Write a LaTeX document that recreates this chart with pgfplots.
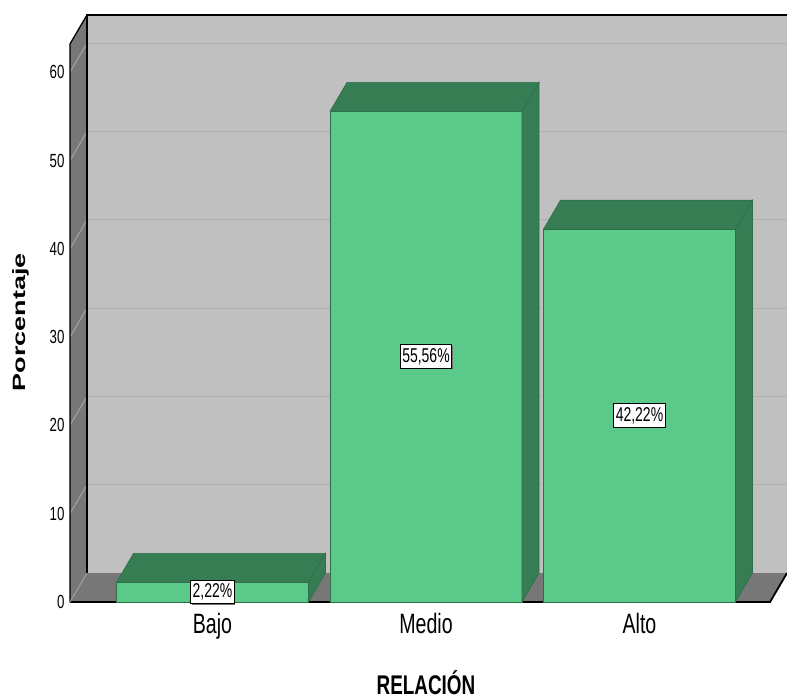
\documentclass[border=0pt]{standalone}
\usepackage{fontspec}
\newfontfamily\nar[FakeStretch=0.7]{Liberation Sans}
\usepackage{pgfplots}
\usepackage{pgfplotstable}
\pgfplotsset{compat=1.18}
\usetikzlibrary{shadows}
\definecolor{wall}{HTML}{C0C0C0}
\definecolor{gridc}{HTML}{B0B0B0}
\definecolor{side}{HTML}{777777}
\definecolor{sgrid}{HTML}{A4A4A4}
\definecolor{barf}{HTML}{5BC98A}
\definecolor{bard}{HTML}{377D53}
\definecolor{edgec}{HTML}{2F6E49}

\pgfplotstableread{
x y lab
0 2.22 {2,22\%}
1 55.56 {55,56\%}
2 42.22 {42,22\%}
}\datatable

\begin{document}
\begin{tikzpicture}
\path[use as bounding box] (-70pt,-98pt) rectangle (717pt,602pt);
\begin{axis}[
  x=213.5pt, y=8.83pt,
  xmin=-0.6674, xmax=2.691, ymin=0, ymax=66.48,
  anchor=south west, at={(0pt,0pt)},
  clip=false,
  axis line style={draw=none},
  tick style={draw=none},
  major tick length=0pt,
  xtick={0,1,2}, xticklabels={Bajo,Medio,Alto},
  ytick={0,10,...,60},
  /pgf/number format/assume math mode=true,
  yticklabel style={font=\nar\fontsize{19}{19}\selectfont, xshift=-2pt},
  xticklabel style={font=\nar\fontsize{28}{28}\selectfont, yshift=-8pt},
  every axis x label/.style={at={(axis cs:1,-10.5)}, anchor=base, inner sep=0pt},
  every axis y label/.style={at={(axis cs:-0.897,31.7)}, anchor=center, rotate=90},
  xlabel={\nar\fontsize{27}{27}\selectfont\bfseries RELACIÓN},
  ylabel={\scalebox{1}[0.66]{\fontspec{Liberation Sans}\fontsize{27}{27}\selectfont\bfseries Porcentaje}},
]
% back wall
\addplot[fill=wall, draw=none] coordinates {(-0.5878,3.28) (2.691,3.28) (2.691,66.48) (-0.5878,66.48) (-0.5878,3.28)};
% left wall
\addplot[fill=side, draw=none] coordinates {(-0.6674,0) (-0.5878,3.28) (-0.5878,66.48) (-0.6674,63.2) (-0.6674,0)};
% grid lines
\pgfplotsinvokeforeach{10,20,30,40,50,60}{
  \pgfmathsetmacro\gb{#1+3.28}
  \addplot[gridc, line width=1.2pt] coordinates {(-0.5878,\gb) (2.691,\gb)};
  \addplot[sgrid, line width=1pt] coordinates {(-0.6674,#1) (-0.5878,\gb)};
}
% floor
\addplot[fill=side, draw=none] coordinates {(-0.6674,0) (2.6114,0) (2.691,3.28) (-0.5878,3.28) (-0.6674,0)};
% frame edges
\addplot[black, line width=1.3pt] coordinates {(-0.5878,3.28) (-0.5878,66.48) (2.691,66.48)};
\addplot[black, line width=1.3pt] coordinates {(-0.6674,0) (-0.6674,63.2) (-0.5878,66.48)};
\addplot[black, line width=1.8pt] coordinates {(-0.6674,0) (2.6114,0) (2.691,3.28)};
\addplot[sgrid, line width=0.8pt] coordinates {(-0.6674,0) (-0.5878,3.28)};
% bars: front faces
\addplot[ybar, bar width=0.8994, fill=barf, draw=edgec, line width=0.6pt] table[x=x, y=y] {\datatable};
% bars: top and side faces
\pgfplotsinvokeforeach{0,1,2}{
  \pgfplotstablegetelem{#1}{y}\of\datatable
  \pgfmathsetmacro\barv{\pgfplotsretval}
  \pgfmathsetmacro\barxl{#1-0.4497}
  \pgfmathsetmacro\barxr{#1+0.4497}
  \pgfmathsetmacro\barxlb{#1-0.4497+0.0796}
  \pgfmathsetmacro\barxrb{#1+0.4497+0.0796}
  \pgfmathsetmacro\barvb{\barv+3.28}
  \addplot[fill=bard, draw=edgec, line width=0.6pt] coordinates {(\barxl,\barv) (\barxr,\barv) (\barxrb,\barvb) (\barxlb,\barvb) (\barxl,\barv)};
  \addplot[fill=bard, draw=edgec, line width=0.6pt] coordinates {(\barxr,0) (\barxr,\barv) (\barxrb,\barvb) (\barxrb,3.28) (\barxr,0)};
}
% value labels
\addplot[draw=none, mark=none, point meta=explicit symbolic, nodes near coords,
  every node near coord/.style={anchor=center, fill=white, draw=black, line width=1pt,
    inner xsep=2pt, inner ysep=3.5pt, font=\nar\fontsize{20}{20}\selectfont,
    drop shadow={shadow xshift=1pt, shadow yshift=-1pt, fill=black!55, opacity=1}}]
  table[x=x, y expr=\thisrow{y}/2, meta=lab] {\datatable};
\end{axis}
\end{tikzpicture}
\end{document}
